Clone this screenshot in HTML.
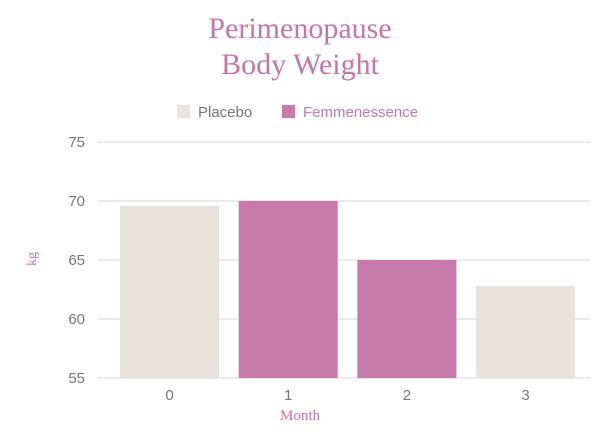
<!DOCTYPE html>
<html><head><meta charset="utf-8"><style>
body{margin:0;background:#fff;width:600px;height:443px;overflow:hidden}
svg text{font-family:"Liberation Sans",sans-serif}
</style></head><body>
<svg width="600" height="443">
<g fill="#c874a8" font-size="30" text-anchor="middle" style="font-family:'Liberation Serif',serif">
<text x="300" y="38" style="font-family:'Liberation Serif',serif">Perimenopause</text>
<text x="300" y="74" style="font-family:'Liberation Serif',serif">Body Weight</text>
</g>
<g font-size="15">
<rect x="177" y="105" width="13" height="13" fill="#e8e3dc"/>
<text x="198" y="117" fill="#777">Placebo</text>
<rect x="282" y="105" width="13" height="13" fill="#c779ab"/>
<text x="303" y="117" fill="#c779ab">Femmenessence</text>
</g>
<g id="grid"></g><g id="bars"></g><g id="xt"></g>
<text x="0" y="0" transform="translate(36,259) rotate(-90)" text-anchor="middle" fill="#c874a8" font-size="14" style="font-family:'Liberation Serif',serif">kg</text>
<text x="300" y="420" text-anchor="middle" fill="#c874a8" font-size="15" style="font-family:'Liberation Serif',serif">Month</text>
</svg>
<script>
const categories=["0","1","2","3"];
const values=[69.6,70,65,62.8];
const groups=["placebo","femmenessence","femmenessence","placebo"];
const yTicks=[55,60,65,70,75];
const colors={placebo:"#e8e3dc",femmenessence:"#c779ab"};
const NS="http://www.w3.org/2000/svg";
function y(v){return 378-(v-55)*11.8;}
function x(i){return 110.5+i*118.7;}
const g=document.getElementById('grid');
yTicks.forEach(t=>{
 const l=document.createElementNS(NS,'line');
 l.setAttribute('x1',98);l.setAttribute('x2',590);l.setAttribute('y1',y(t));l.setAttribute('y2',y(t));
 l.setAttribute('stroke','#d6d6d6');l.setAttribute('stroke-width',1);
 
 
 g.appendChild(l);
 const tx=document.createElementNS(NS,'text');
 tx.setAttribute('x',85);tx.setAttribute('y',y(t)+5);tx.setAttribute('text-anchor','end');
 tx.setAttribute('fill','#777');tx.setAttribute('font-size','15');tx.textContent=t;
 
 
 g.appendChild(tx);
});
const b=document.getElementById('bars'),xt=document.getElementById('xt');
categories.forEach((c,i)=>{
 const r=document.createElementNS(NS,'rect');
 r.setAttribute('x',x(i)+9.5);r.setAttribute('width',99);
 r.setAttribute('y',y(values[i]));r.setAttribute('height',y(55)-y(values[i]));
 r.setAttribute('fill',colors[groups[i]]);
 
 
 b.appendChild(r);
 const t=document.createElementNS(NS,'text');
 t.setAttribute('x',x(i)+59);t.setAttribute('y',400);t.setAttribute('text-anchor','middle');
 t.setAttribute('fill','#777');t.setAttribute('font-size','15');t.textContent=c;
 
 
 xt.appendChild(t);
});
</script>
</body></html>
